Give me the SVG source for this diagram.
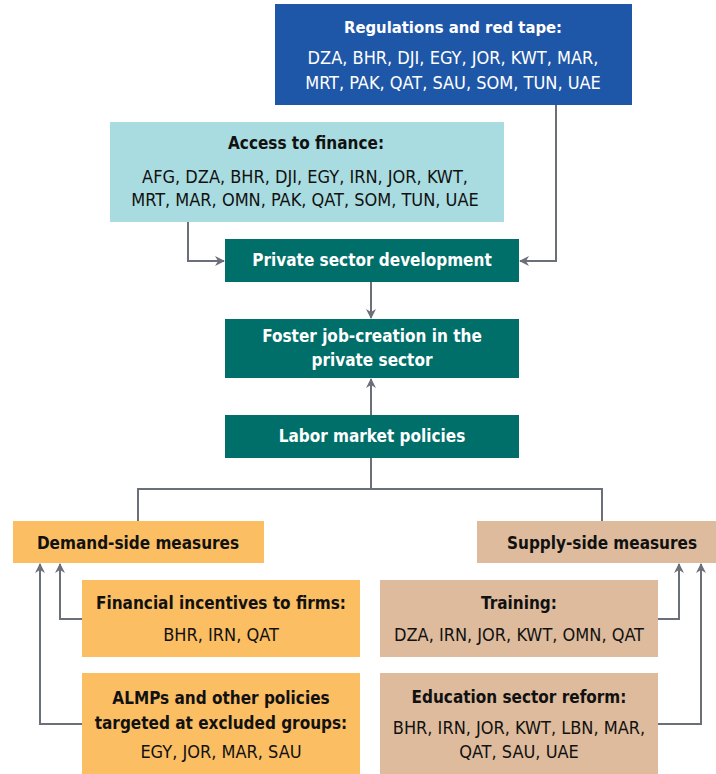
<svg xmlns="http://www.w3.org/2000/svg" width="716" height="774" viewBox="0 0 716 774">
<defs>
<marker id="ah" viewBox="0 0 10 10" refX="9" refY="5" markerWidth="10" markerHeight="10" markerUnits="userSpaceOnUse" orient="auto">
<path d="M0,0 L10,5 L0,10 L3,5 Z" fill="#6b6f7a"/>
</marker>
<style>
text{font-family:"Liberation Sans Narrow","DejaVu Sans Condensed","Liberation Sans",sans-serif;text-anchor:middle;font-size:18px;fill:#111}
.b{font-weight:bold;font-size:17px}
.w{fill:#fff}
.c{stroke:#6b6f7a;stroke-width:2;fill:none}
</style>
</defs>
<rect width="716" height="774" fill="#fff"/>
<g id="connectors">
<path class="c" d="M188,222 V261 H224" marker-end="url(#ah)"/>
<path class="c" d="M556,105 V261 H520" marker-end="url(#ah)"/>
<path class="c" d="M371,282 V318" marker-end="url(#ah)"/>
<path class="c" d="M371,415 V379" marker-end="url(#ah)"/>
<path class="c" d="M371,458 V489 M138,521 V489 H602 V521"/>
<path class="c" d="M82,619 H60 V564" marker-end="url(#ah)"/>
<path class="c" d="M82,724 H40 V564" marker-end="url(#ah)"/>
<path class="c" d="M658,619 H679 V564" marker-end="url(#ah)"/>
<path class="c" d="M658,724 H701 V564" marker-end="url(#ah)"/>
</g>
<g id="regulations">
<rect x="275" y="4" width="357" height="101" fill="#1f57a8"/>
<text class="b w" x="453" y="33" style="font-size:16.5px">Regulations and red tape:</text>
<text class="w" x="453" y="64">DZA, BHR, DJI, EGY, JOR, KWT, MAR,</text>
<text class="w" x="453" y="89">MRT, PAK, QAT, SAU, SOM, TUN, UAE</text>
</g>
<g id="finance">
<rect x="110" y="122" width="394" height="100" fill="#a9dce0"/>
<text class="b" x="306" y="149">Access to finance:</text>
<text x="305" y="183">AFG, DZA, BHR, DJI, EGY, IRN, JOR, KWT,</text>
<text x="305" y="206">MRT, MAR, OMN, PAK, QAT, SOM, TUN, UAE</text>
</g>
<g id="private">
<rect x="225" y="239" width="294" height="43" fill="#006f6a"/>
<text class="b w" x="372" y="266">Private sector development</text>
</g>
<g id="foster">
<rect x="225" y="319" width="294" height="59" fill="#006f6a"/>
<text class="b w" x="372" y="342">Foster job-creation in the</text>
<text class="b w" x="372" y="366">private sector</text>
</g>
<g id="labor">
<rect x="225" y="415" width="294" height="43" fill="#006f6a"/>
<text class="b w" x="372" y="442">Labor market policies</text>
</g>
<g id="demand">
<rect x="13" y="521" width="251" height="42" fill="#fbbe63"/>
<text class="b" x="138" y="549">Demand-side measures</text>
</g>
<g id="supply">
<rect x="477" y="521" width="239" height="42" fill="#ddbb9c"/>
<text class="b" x="602" y="549">Supply-side measures</text>
</g>
<g id="financial">
<rect x="82" y="580" width="278" height="77" fill="#fbbe63"/>
<text class="b" x="221" y="609">Financial incentives to firms:</text>
<text x="221" y="641">BHR, IRN, QAT</text>
</g>
<g id="almps">
<rect x="82" y="673" width="278" height="101" fill="#fbbe63"/>
<text class="b" x="221" y="704">ALMPs and other policies</text>
<text class="b" x="221" y="729">targeted at excluded groups:</text>
<text x="221" y="758">EGY, JOR, MAR, SAU</text>
</g>
<g id="training">
<rect x="380" y="580" width="278" height="77" fill="#ddbb9c"/>
<text class="b" x="519" y="609">Training:</text>
<text x="519" y="641">DZA, IRN, JOR, KWT, OMN, QAT</text>
</g>
<g id="education">
<rect x="380" y="673" width="278" height="101" fill="#ddbb9c"/>
<text class="b" x="519" y="703">Education sector reform:</text>
<text x="519" y="734">BHR, IRN, JOR, KWT, LBN, MAR,</text>
<text x="519" y="758">QAT, SAU, UAE</text>
</g>
</svg>
